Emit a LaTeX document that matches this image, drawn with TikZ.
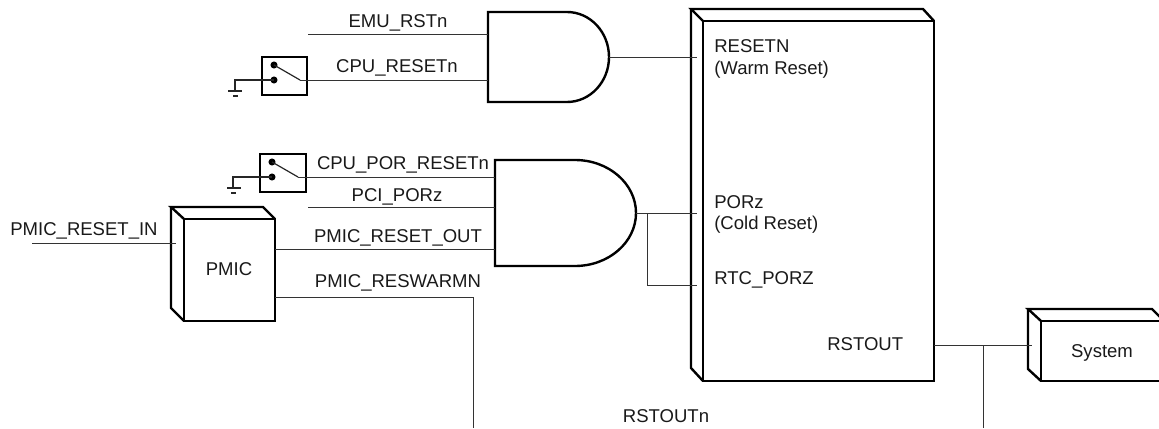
\documentclass[tikz,border=0pt]{standalone}
\usepackage{fontspec}
\setmainfont{Liberation Sans}
\usetikzlibrary{calc}
% one unit is one pixel of the picture, y runs downward
\tikzset{
	wire/.style={line width=0.6pt, color=black!80},
	lever/.style={line width=0.9pt, color=black!85},
	heavy/.style={line width=1.8pt, color=black, line join=miter},
	lbl/.style={inner sep=0pt, text height=10pt, text depth=0pt, font=\fontsize{13.9pt}{16pt}\selectfont, color=black!90},
	lbll/.style={lbl, anchor=west},
	dot/.style={circle, fill=black, inner sep=0pt, minimum size=5.3pt}
}
\begin{document}
\begin{tikzpicture}[x=0.75pt, y=-0.75pt]
	\useasboundingbox (0, 0) rectangle (1159, 428);
	
	%%%%% gates %%%%%
	\draw[heavy] (488, 12) -- (567, 12) arc (-90:90:42 and 45) -- (488, 102) -- cycle;
	\draw[heavy] (495, 160) -- (575, 160) arc (-90:90:61 and 53) -- (495, 266) -- cycle;
	\coordinate (warmout) at (609, 57);
	\coordinate (coldout) at (636, 213);
	
	%%%%% switches %%%%%
	\draw[heavy] (262, 57) rectangle (307, 95);
	\node[dot] (warma) at (274, 65) {};
	\node[dot] (warmb) at (274, 80) {};
	\coordinate (warmc) at (300, 80);
	\draw[lever] (warma.center) -- (warmc);
	\draw[lever] (warmb.center) -- (235, 80) -- (235, 91);
	\draw[lever] (228, 91) -- (242, 91);
	\draw[lever] (233, 96) -- (238, 96);
	
	\draw[heavy] (260, 154) rectangle (306, 192);
	\node[dot] (colda) at (272, 162) {};
	\node[dot] (coldb) at (272, 177) {};
	\coordinate (coldc) at (298, 177);
	\draw[lever] (colda.center) -- (coldc);
	\draw[lever] (coldb.center) -- (233, 177) -- (233, 188);
	\draw[lever] (227, 188) -- (241, 188);
	\draw[lever] (231, 193) -- (236, 193);
	
	%%%%% blocks %%%%%
	\draw[heavy] (184, 219) rectangle (275, 321);
	\draw[heavy] (184, 219) -- (171, 207) -- (263, 207) -- (275, 219);
	\draw[heavy] (171, 207) -- (171, 308) -- (184, 321);
	\node[lbl] (pmic) at (229, 269) {PMIC};
	
	\draw[heavy] (703, 21) rectangle (934, 381);
	\draw[heavy] (703, 21) -- (691, 9) -- (923, 9) -- (934, 21);
	\draw[heavy] (691, 9) -- (691, 368) -- (703, 381);
	
	\draw[heavy] (1041, 321) rectangle (1175, 381);
	\draw[heavy] (1041, 321) -- (1028, 309) -- (1152, 309) -- (1164, 321);
	\draw[heavy] (1028, 309) -- (1028, 369) -- (1041, 381);
	\node[lbl] (system) at (1102, 351) {System};
	
	%%%%% wires %%%%%
	\coordinate (resetn) at (697, 57);
	\coordinate (porz) at (697, 213);
	\coordinate (rtc) at (697, 285);
	\coordinate (tap) at (647, 213);
	\coordinate (rstout) at (934, 345);
	\coordinate (sysin) at (1032, 345);
	\coordinate (rstn) at (983, 345);
	
	\draw[wire] (308, 34) -- (488, 34);
	\draw[wire] (warmc) -- (488, 80);
	\draw[wire] (coldc) -- (495, 177);
	\draw[wire] (308, 207) -- (495, 207);
	\draw[wire] (275, 249) -- (495, 249);
	\draw[wire] (32, 243) -- (176, 243);
	\draw[wire] (275, 297) -- (473, 297) -- (473, 428);
	\draw[wire] (warmout) -- (resetn);
	\draw[wire] (coldout) -- (porz);
	\draw[wire] (tap) |- (rtc);
	\draw[wire] (rstout) -- (sysin);
	\draw[wire] (rstn) -- (983, 428);
	
	%%%%% labels %%%%%
	\node[lbl] (emu) at (398, 21) {EMU\_RSTn};
	\node[lbl] (cpu) at (397, 66) {CPU\_RESETn};
	\node[lbl] (cpupor) at (403, 163) {CPU\_POR\_RESETn};
	\node[lbl] (pci) at (397, 195) {PCI\_PORz};
	\node[lbl] (pmicin) at (84, 229) {PMIC\_RESET\_IN};
	\node[lbl] (pmicout) at (398, 236) {PMIC\_RESET\_OUT};
	\node[lbl] (pmicwarm) at (398, 281) {PMIC\_RESWARMN};
	\node[lbl] (rstoutn) at (666, 416) {RSTOUTn};
	\node[lbll] (lresetn) at (714, 46) {RESETN};
	\node[lbll] (lwarm) at (714, 68) {(Warm Reset)};
	\node[lbll] (lporz) at (714, 202) {PORz};
	\node[lbll] (lcold) at (714, 223) {(Cold Reset)};
	\node[lbll] (lrtc) at (714, 278) {RTC\_PORZ};
	\node[lbll] (lrstout) at (827, 344) {RSTOUT};
\end{tikzpicture}
\end{document}
